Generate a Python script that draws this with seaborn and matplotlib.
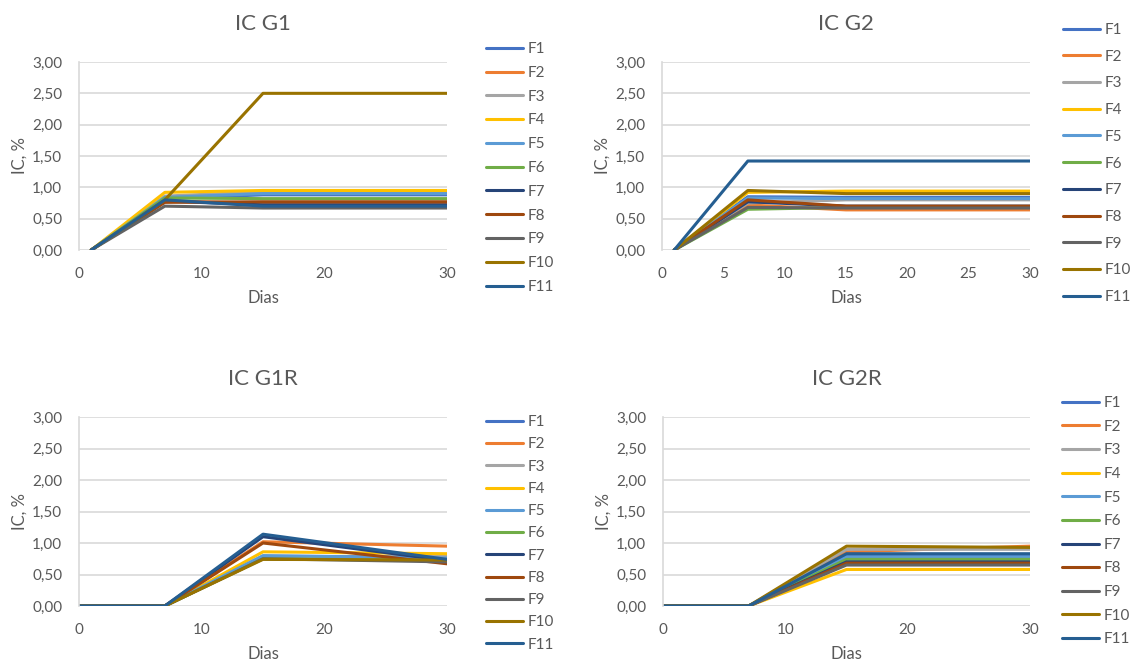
import pandas as pd
import matplotlib
matplotlib.use('Agg')
import matplotlib.pyplot as plt
import seaborn as sns
from matplotlib.ticker import FuncFormatter

series = ['F1', 'F2', 'F3', 'F4', 'F5', 'F6', 'F7', 'F8', 'F9', 'F10', 'F11']
colors = ['#4472C4', '#ED7D31', '#A5A5A5', '#FFC000', '#5B9BD5', '#70AD47',
          '#264478', '#9E480E', '#636363', '#997300', '#255E91']

days_g = [1, 7, 15, 30]
days_r = [0, 7, 15, 30]

ic_g1 = [
    [0, 0.82, 0.88, 0.88],
    [0, 0.78, 0.75, 0.75],
    [0, 0.86, 0.93, 0.93],
    [0, 0.92, 0.95, 0.95],
    [0, 0.84, 0.90, 0.90],
    [0, 0.83, 0.82, 0.82],
    [0, 0.78, 0.72, 0.72],
    [0, 0.76, 0.77, 0.77],
    [0, 0.70, 0.67, 0.67],
    [0, 0.80, 2.50, 2.50],
    [0, 0.80, 0.70, 0.70],
]
ic_g2 = [
    [0, 0.85, 0.84, 0.84],
    [0, 0.72, 0.64, 0.64],
    [0, 0.75, 0.80, 0.80],
    [0, 0.92, 0.94, 0.94],
    [0, 0.83, 0.82, 0.82],
    [0, 0.65, 0.68, 0.68],
    [0, 0.77, 0.70, 0.70],
    [0, 0.80, 0.70, 0.70],
    [0, 0.68, 0.67, 0.67],
    [0, 0.95, 0.90, 0.90],
    [0, 1.42, 1.42, 1.42],
]
ic_g1r = [
    [0, 0, 0.79, 0.78],
    [0, 0, 1.02, 0.95],
    [0, 0, 0.76, 0.80],
    [0, 0, 0.86, 0.83],
    [0, 0, 0.80, 0.76],
    [0, 0, 0.75, 0.72],
    [0, 0, 1.10, 0.72],
    [0, 0, 1.00, 0.67],
    [0, 0, 0.75, 0.70],
    [0, 0, 0.74, 0.73],
    [0, 0, 1.14, 0.74],
]
ic_g2r = [
    [0, 0, 0.80, 0.80],
    [0, 0, 0.86, 0.95],
    [0, 0, 0.90, 0.90],
    [0, 0, 0.58, 0.58],
    [0, 0, 0.78, 0.78],
    [0, 0, 0.74, 0.74],
    [0, 0, 0.70, 0.70],
    [0, 0, 0.68, 0.68],
    [0, 0, 0.65, 0.65],
    [0, 0, 0.95, 0.93],
    [0, 0, 0.83, 0.83],
]


def to_long(days, values):
    rows = []
    for name, vals in zip(series, values):
        for d, v in zip(days, vals):
            rows.append({'Dias': d, 'IC': v, 'serie': name})
    return pd.DataFrame(rows)


sns.set_theme(style='white')
plt.rcParams['font.family'] = ['Lato', 'DejaVu Sans']
text_color = '#595959'
grid_color = '#D9D9D9'

fig = plt.figure(figsize=(11.34, 6.61), dpi=100)

# (title, days, data, axes rect in px, x ticks, legend anchor in px, legend spacing)
panels = [
    ('IC G1', days_g, ic_g1, [79, 62, 447, 250], [0, 10, 20, 30], (480, 36), 0.64),
    ('IC G2', days_g, ic_g2, [662, 62, 1030, 250], [0, 5, 10, 15, 20, 25, 30], (1057, 17), 0.83),
    ('IC G1R', days_r, ic_g1r, [79, 417, 447, 606], [0, 10, 20, 30], (480, 409), 0.54),
    ('IC G2R', days_r, ic_g2r, [663, 417, 1030, 606], [0, 10, 20, 30], (1056, 390), 0.63),
]

W, H = 1134, 661
for title, days, data, (x0, y0, x1, y1), xt, (lx, ly), spacing in panels:
    ax = fig.add_axes([x0 / W, 1 - y1 / H, (x1 - x0) / W, (y1 - y0) / H])
    df = to_long(days, data)
    sns.lineplot(data=df, x='Dias', y='IC', hue='serie', hue_order=series,
                 palette=colors, linewidth=2.2, ax=ax, legend=True)
    ax.set_xlim(0, 30)
    ax.set_ylim(0, 3.0)
    ax.set_xticks(xt)
    ax.set_yticks([0, 0.5, 1.0, 1.5, 2.0, 2.5, 3.0])
    ax.yaxis.set_major_formatter(FuncFormatter(lambda v, p: f'{v:.2f}'.replace('.', ',')))
    ax.grid(axis='y', color=grid_color, linewidth=1.2)
    ax.set_axisbelow(True)
    for s in ['top', 'right', 'bottom']:
        ax.spines[s].set_visible(False)
    ax.spines['left'].set_color(grid_color)
    ax.spines['left'].set_linewidth(1.2)
    ax.tick_params(axis='both', length=0, labelsize=11, colors=text_color, pad=12)
    ax.set_xlabel('Dias', fontsize=12, color=text_color, labelpad=7)
    ax.set_ylabel('IC, %', fontsize=12, color=text_color, labelpad=3)
    ax.set_title(title, fontsize=16, color=text_color, pad=23)
    handles, labels = ax.get_legend_handles_labels()
    ax.legend(handles, labels, loc='upper left',
              bbox_to_anchor=(lx / W, 1 - ly / H), bbox_transform=fig.transFigure,
              frameon=False, fontsize=11, handlelength=2.4, handletextpad=0.3,
              labelspacing=spacing, labelcolor=text_color, borderaxespad=0)

fig.savefig('out.png', dpi=100, facecolor='white')
